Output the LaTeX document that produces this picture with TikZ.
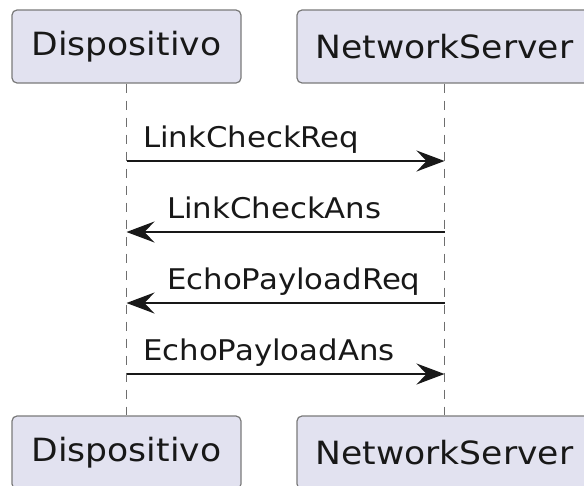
\documentclass[tikz,border=0pt]{standalone}
\usepackage{fontspec}
\usetikzlibrary{arrows.meta}
\newfontfamily\partfont[FakeStretch=1.08]{DejaVu Sans}
\newfontfamily\msgfont[FakeStretch=1.08]{DejaVu Sans}
\definecolor{partfill}{HTML}{E2E2F0}
\definecolor{partline}{HTML}{7A7A7A}
\definecolor{inkc}{HTML}{181818}
\definecolor{lifec}{HTML}{6E6E6E}
\tikzset{
  participant/.style={draw=partline, line width=1.2pt, fill=partfill, rounded corners=5pt,
    minimum height=73pt, inner sep=0pt, text=inkc, font=\partfont\fontsize{32}{38}\selectfont},
  lifeline/.style={draw=lifec, line width=1pt, dash pattern=on 9pt off 8pt},
  message/.style={draw=inkc, line width=2pt,
    -{Stealth[length=28pt, width=21pt, inset=10pt]}},
  msglabel/.style={anchor=base west, inner sep=0pt, text=inkc,
    font=\msgfont\fontsize{28.5}{34}\selectfont}
}
\begin{document}
\begin{tikzpicture}[x=1pt, y=-1pt]
  \useasboundingbox (0,0) rectangle (584,485);
  \begin{scope}
    \clip (0,0) rectangle (584,485);
    % participants, top and bottom
    \node[participant, minimum width=229pt] (devtop) at (126.5,46.5) {Dispositivo};
    \node[participant, minimum width=295pt] (nstop) at (444.5,46.5) {NetworkServer};
    \node[participant, minimum width=229pt] (devbot) at (126.5,452.5) {Dispositivo};
    \node[participant, minimum width=295pt] (nsbot) at (444.5,452.5) {NetworkServer};
  \end{scope}
  % lifelines
  \draw[lifeline] (devtop.south) -- (devbot.north);
  \draw[lifeline] (nstop.south) -- (nsbot.north);
  % message end points on the lifelines
  \coordinate (d1) at (126.5,161);  \coordinate (n1) at (444.5,161);
  \coordinate (d2) at (126.5,232);  \coordinate (n2) at (444.5,232);
  \coordinate (d3) at (126.5,303);  \coordinate (n3) at (444.5,303);
  \coordinate (d4) at (126.5,374);  \coordinate (n4) at (444.5,374);
  % messages
  \draw[message] (d1) -- (n1);
  \node[msglabel] (m1) at (143,147) {LinkCheckReq};
  \draw[message] (n2) -- (d2);
  \node[msglabel] (m2) at (167,218) {LinkCheckAns};
  \draw[message] (n3) -- (d3);
  \node[msglabel] (m3) at (167,289) {EchoPayloadReq};
  \draw[message] (d4) -- (n4);
  \node[msglabel] (m4) at (143,360) {EchoPayloadAns};
\end{tikzpicture}
\end{document}
